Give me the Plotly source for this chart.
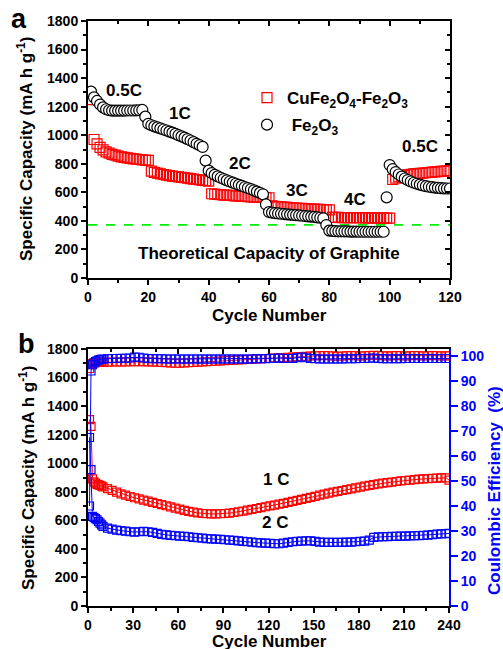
import plotly.graph_objects as go

# ---------------- Panel a : rate capability ----------------
cycles_a = list(range(1, 121))
cufe_a = [1250, 970, 940, 915, 897, 884, 874, 866, 860, 854, 849, 845, 841, 838, 835, 832, 830, 828, 826, 824,
          748, 740, 734, 729, 725, 721, 717, 714, 711, 708, 705, 702, 699, 696, 693, 690, 687, 684, 681, 678,
          590, 587, 585, 583, 581, 580, 578, 577, 575, 574, 572, 571, 569, 568, 567, 566, 565, 564, 563, 562,
          505, 502, 500, 498, 496, 494, 493, 491, 490, 488, 487, 486, 484, 483, 482, 481, 480, 479, 478, 477,
          425, 424, 424, 423, 423, 423, 422, 422, 422, 422, 422, 421, 421, 421, 421, 421, 420, 420, 420, 420,
          690, 700, 708, 714, 719, 723, 726, 729, 731, 733, 735, 737, 739, 741, 743, 745, 747, 748, 750, 752]
fe2o3_a = [1305, 1265, 1240, 1215, 1195, 1182, 1175, 1172, 1172, 1172, 1172, 1172, 1173, 1173, 1173, 1174, 1175, 1177,
           1130,
           1080, 1070, 1062, 1055, 1048, 1040, 1033, 1025, 1018, 1010, 1000, 992, 983, 973, 963, 952, 940, 930, 918,
           822,
           752, 735, 722, 712, 702, 693, 684, 676, 668, 660, 652, 645, 637, 630, 622, 614, 605, 596, 586,
           515,
           462, 458, 455, 452, 450, 448, 446, 444, 442, 440, 438, 436, 434, 432, 430, 428, 425, 422, 418,
           371,
           332, 330, 328, 327, 327, 326, 326, 325, 325, 325, 324, 324, 324, 324, 324, 324, 324, 324, 324,
           565,
           791, 762, 742, 725, 710, 697, 686, 676, 667, 660, 654, 648, 643, 639, 636, 633, 631, 629, 628, 627, 627]
GRAPHITE_CAPACITY = 372
rate_labels = ["0.5C", "1C", "2C", "3C", "4C", "0.5C"]
rate_label_pos = [(11.9, 1310), (30.5, 1150), (50.4, 805), (69.3, 616), (88.5, 553), (110, 918)]

# ---------------- Panel b : long cycling ----------------
cycles_b = [1, 2, 3, 4, 5, 6, 7, 8, 9, 10] + list(range(13, 239, 3)) + [240]
cap_1C = [1305, 1258, 890, 870, 860, 852, 848, 845, 840, 835,
          822, 810, 798, 786, 776, 767, 758, 750, 742, 734,
          726, 718, 710, 702, 694, 686, 678, 670, 663, 657,
          652, 648, 646, 645, 645, 646, 648, 651, 655, 660,
          665, 671, 677, 683, 689, 695, 701, 707, 713, 719,
          726, 733, 740, 747, 754, 761, 768, 776, 783, 790,
          797, 803, 809, 815, 821, 827, 833, 839, 845, 850,
          855, 860, 864, 868, 872, 876, 879, 882, 885, 888,
          890, 892, 894, 896, 897, 898,
          882]
cap_2C = [1180, 955, 628, 620, 612, 604, 592, 580, 568, 558,
          545, 538, 532, 528, 524, 520, 518, 520, 522, 520,
          515, 508, 502, 498, 495, 492, 490, 488, 485, 481,
          478, 475, 472, 470, 468, 466, 464, 462, 459, 456,
          453, 450, 447, 444, 442, 440, 438, 436, 436, 440,
          446, 450, 453, 455, 457, 456, 452, 448, 446, 445,
          445, 445, 446, 447, 448, 450, 452, 455, 462, 480,
          484, 485, 486, 487, 488, 489, 490, 491, 492, 493,
          495, 497, 500, 503, 505, 507,
          508]
ce_1C = [95.0, 96.5, 97.0, 97.2, 97.3, 97.4, 97.4, 97.5, 97.5, 97.5,
         97.5, 97.6, 97.6, 97.6, 97.6, 97.7, 97.7, 97.7, 97.7, 97.6,
         97.6, 97.5, 97.4, 97.3, 97.2, 97.1, 97.1, 97.2, 97.3, 97.4,
         97.5, 97.6, 97.7, 97.8, 97.9, 98.0, 98.1, 98.2, 98.3, 98.4,
         98.5, 98.6, 98.7, 98.8, 98.9, 99.0, 99.1, 99.2, 99.3, 99.4,
         99.5, 99.6, 99.7, 99.8, 99.9, 100.0, 100.1, 100.1, 100.2, 100.1,
         100.0, 99.9, 100.0, 100.1, 100.2, 100.1, 100.0, 100.1, 100.2, 100.3,
         100.2, 100.1, 100.0, 100.1, 100.2, 100.1, 100.0, 100.1, 100.2, 100.1,
         100.0, 100.1, 100.2, 100.1, 100.0, 100.1,
         100.0]
ce_2C = [40.0, 94.0, 96.5, 97.3, 97.8, 98.1, 98.4, 98.6, 98.7, 98.8,
         98.9, 99.0, 99.0, 99.1, 99.1, 99.2, 99.6, 99.5, 99.2, 99.0,
         98.9, 98.9, 98.9, 98.8, 98.8, 98.8, 98.8, 98.8, 98.8, 98.8,
         98.8, 98.8, 98.8, 98.8, 98.8, 98.8, 98.8, 98.8, 98.8, 98.8,
         98.8, 98.8, 98.8, 98.9, 98.9, 98.9, 99.0, 99.1, 99.2, 99.0,
         99.0, 99.0, 99.3, 99.6, 99.3, 99.0, 98.9, 98.8, 98.8, 98.8,
         98.8, 98.8, 98.8, 98.9, 98.9, 98.9, 99.0, 99.0, 99.1, 99.2,
         99.0, 98.9, 98.9, 98.9, 98.9, 98.9, 99.0, 99.0, 99.0, 99.0,
         99.0, 99.0, 99.0, 99.0, 99.0, 99.0,
         99.0]
curve_labels = ["1 C", "2 C"]
curve_label_pos = [(124.7, 885), (124.0, 583)]

# ---------------- styling ----------------
W, H = 503, 649
FONT = "Liberation Sans, Arial, sans-serif"
RED = "#FF0000"
BLUE = "#0000FF"
GREEN = "#00EE00"


def fx(px):
    return px / W


def fy(py):
    return 1 - py / H


xa_dom = [fx(88), fx(450)]
ya_dom = [fy(278), fy(21)]
xb_dom = [fx(88), fx(449)]
yb_dom = [fy(606), fy(349)]

tickfont = dict(family=FONT, size=14, color="black", weight="bold")


def ax(**kw):
    d = dict(showgrid=False, zeroline=False, showline=True, linecolor="black", linewidth=2,
             ticks="outside", ticklen=5, tickwidth=2, tickcolor="black", tickfont=tickfont,
             automargin=False)
    d.update(kw)
    return d


fig = go.Figure()

# panel a
fig.add_trace(go.Scatter(x=[0, 120], y=[GRAPHITE_CAPACITY, GRAPHITE_CAPACITY], mode="lines",
                         line=dict(color=GREEN, width=1.6, dash="dash"), showlegend=False,
                         hoverinfo="skip", xaxis="x", yaxis="y"))
fig.add_trace(go.Scatter(x=cycles_a, y=cufe_a, mode="markers", name="CuFe<sub>2</sub>O<sub>4</sub>-Fe<sub>2</sub>O<sub>3</sub>",
                         marker=dict(symbol="square-open", size=10, color=RED, line=dict(width=1.2, color=RED)),
                         xaxis="x", yaxis="y", legendgroup="g1"))
fig.add_trace(go.Scatter(x=cycles_a, y=fe2o3_a, mode="markers", name="\u00a0Fe<sub>2</sub>O<sub>3</sub>",
                         marker=dict(symbol="circle", size=11, color="white", line=dict(width=1.2, color="black")),
                         xaxis="x", yaxis="y", legendgroup="g2"))
# mirror tick helpers
fig.add_trace(go.Scatter(x=[None], y=[None], xaxis="x3", yaxis="y", showlegend=False, hoverinfo="skip"))
fig.add_trace(go.Scatter(x=[None], y=[None], xaxis="x", yaxis="y4", showlegend=False, hoverinfo="skip"))

# panel b
fig.add_trace(go.Scatter(x=cycles_b, y=cap_1C, mode="lines+markers", showlegend=False,
                         line=dict(color=RED, width=1),
                         marker=dict(symbol="square-open", size=8, color=RED, line=dict(width=1.2, color=RED)),
                         xaxis="x2", yaxis="y2"))
fig.add_trace(go.Scatter(x=cycles_b, y=cap_2C, mode="lines+markers", showlegend=False,
                         line=dict(color=BLUE, width=1),
                         marker=dict(symbol="square-open", size=8, color=BLUE, line=dict(width=1.2, color=BLUE)),
                         xaxis="x2", yaxis="y2"))
fig.add_trace(go.Scatter(x=cycles_b, y=ce_1C, mode="lines+markers", showlegend=False,
                         line=dict(color=RED, width=1),
                         marker=dict(symbol="square-open", size=8, color=RED, line=dict(width=1.2, color=RED)),
                         xaxis="x2", yaxis="y3"))
fig.add_trace(go.Scatter(x=cycles_b, y=ce_2C, mode="lines+markers", showlegend=False,
                         line=dict(color=BLUE, width=1),
                         marker=dict(symbol="square-open", size=8, color=BLUE, line=dict(width=1.2, color=BLUE)),
                         xaxis="x2", yaxis="y3"))
fig.add_trace(go.Scatter(x=[None], y=[None], xaxis="x4", yaxis="y2", showlegend=False, hoverinfo="skip"))

fig.update_layout(
    width=W, height=H, autosize=False,
    margin=dict(l=0, r=0, t=0, b=0),
    paper_bgcolor="white", plot_bgcolor="rgba(0,0,0,0)",
    font=dict(family=FONT, color="black"),
    showlegend=True,
    legend=dict(x=fx(247), y=fy(80), xanchor="left", yanchor="top", bgcolor="rgba(0,0,0,0)",
                font=dict(family=FONT, size=17, color="black", weight="bold"),
                traceorder="grouped", tracegroupgap=2, itemwidth=30),
    xaxis=ax(domain=xa_dom, anchor="y", range=[0, 120], tick0=0, dtick=20,
             minor=dict(dtick=10, ticks="outside", ticklen=3, tickwidth=1.5, tickcolor="black")),
    yaxis=ax(domain=ya_dom, anchor="x", range=[0, 1800], tick0=0, dtick=200,
             minor=dict(dtick=100, ticks="outside", ticklen=3, tickwidth=1.5, tickcolor="black")),
    xaxis3=ax(overlaying="x", side="top", anchor="y", range=[0, 120], tick0=0, dtick=20, ticks="inside",
              showticklabels=False,
              minor=dict(dtick=10, ticks="inside", ticklen=3, tickwidth=1.5, tickcolor="black")),
    yaxis4=ax(overlaying="y", side="right", anchor="x", range=[0, 1800], tick0=0, dtick=200, ticks="inside",
              showticklabels=False,
              minor=dict(dtick=100, ticks="inside", ticklen=3, tickwidth=1.5, tickcolor="black")),
    xaxis2=ax(domain=xb_dom, anchor="y2", range=[0, 240], tick0=0, dtick=30,
              minor=dict(dtick=15, ticks="outside", ticklen=3, tickwidth=1.5, tickcolor="black")),
    yaxis2=ax(domain=yb_dom, anchor="x2", range=[0, 1800], tick0=0, dtick=200,
              minor=dict(dtick=100, ticks="outside", ticklen=3, tickwidth=1.5, tickcolor="black")),
    yaxis3=ax(overlaying="y2", side="right", anchor="x2", range=[0, 102.8], tick0=0, dtick=10,
              linecolor=BLUE, tickcolor=BLUE, ticklen=7,
              tickfont=dict(family=FONT, size=14, color=BLUE, weight="bold")),
    xaxis4=ax(overlaying="x2", side="top", anchor="y2", range=[0, 240], tick0=0, dtick=30, ticks="inside",
              showticklabels=False,
              minor=dict(dtick=15, ticks="inside", ticklen=3, tickwidth=1.5, tickcolor="black")),
)

annots = []
bold17 = dict(family=FONT, size=17, color="black", weight="bold")
for t, (xv, yv) in zip(rate_labels, rate_label_pos):
    annots.append(dict(x=xv, y=yv, xref="x", yref="y", text=t, showarrow=False, font=bold17,
                       xanchor="center", yanchor="middle"))
annots.append(dict(x=60, y=175, xref="x", yref="y", text="Theoretical Capacity of Graphite", showarrow=False,
                   font=bold17, xanchor="center", yanchor="middle"))
for t, (xv, yv) in zip(curve_labels, curve_label_pos):
    annots.append(dict(x=xv, y=yv, xref="x2", yref="y2", text=t, showarrow=False, font=bold17,
                       xanchor="center", yanchor="middle"))
# axis titles
ytitle = "Specific Capacity (mA h g<sup>-1</sup>)"
annots.append(dict(x=fx(25), y=fy(149), xref="paper", yref="paper", text=ytitle, textangle=-90,
                   showarrow=False, font=bold17, xanchor="center", yanchor="middle"))
annots.append(dict(x=fx(27), y=fy(478), xref="paper", yref="paper", text=ytitle, textangle=-90,
                   showarrow=False, font=bold17, xanchor="center", yanchor="middle"))
annots.append(dict(x=fx(269), y=fy(315), xref="paper", yref="paper", text="Cycle Number",
                   showarrow=False, font=bold17, xanchor="center", yanchor="middle"))
annots.append(dict(x=fx(269), y=fy(641), xref="paper", yref="paper", text="Cycle Number",
                   showarrow=False, font=bold17, xanchor="center", yanchor="middle"))
annots.append(dict(x=fx(494), y=fy(491), xref="paper", yref="paper",
                   text="Coulombic Efficiency\u00a0\u00a0(%)", textangle=-90,
                   showarrow=False, font=dict(family=FONT, size=17, color=BLUE, weight="bold"),
                   xanchor="center", yanchor="middle"))
# panel letters
annots.append(dict(x=fx(19), y=fy(19), xref="paper", yref="paper", text="a", showarrow=False,
                   font=dict(family=FONT, size=27, color="black", weight="bold"), xanchor="center", yanchor="middle"))
annots.append(dict(x=fx(26), y=fy(344), xref="paper", yref="paper", text="b", showarrow=False,
                   font=dict(family=FONT, size=27, color="black", weight="bold"), xanchor="center", yanchor="middle"))
fig.update_layout(annotations=annots)

fig.write_html("out.html", config={"displayModeBar": False},
               post_script="document.body.style.margin='0';document.body.style.overflow='hidden';")
